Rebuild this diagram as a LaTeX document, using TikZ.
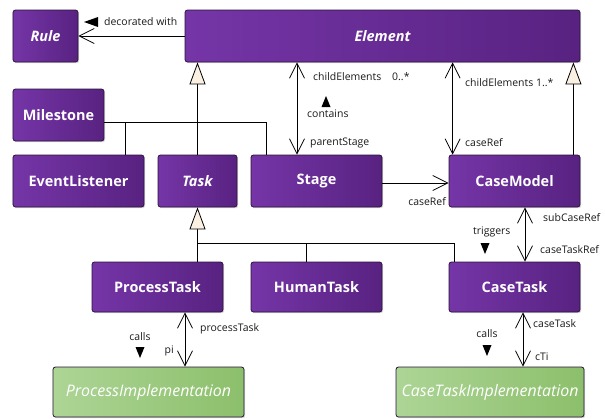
\documentclass[tikz,border=0pt]{standalone}
\usepackage{fontspec}
\setmainfont{Open Sans}
\usetikzlibrary{arrows.meta,shadows}

\definecolor{umlpurpleL}{HTML}{7535A7}
\definecolor{umlpurpleD}{HTML}{582281}
\definecolor{umlgreenL}{HTML}{ADD596}
\definecolor{umlgreenD}{HTML}{8CBF6B}
\definecolor{umledge}{HTML}{2A1438}
\definecolor{gencream}{HTML}{FBF1E2}

\tikzset{
  cls/.style={draw=umledge, line width=0.8bp, rounded corners=2.5bp,
    left color=umlpurpleL, right color=umlpurpleD, text=white,
    font=\fontsize{14.5}{16}\selectfont\bfseries, minimum height=52bp, inner sep=0pt,
    drop shadow={shadow xshift=1.2bp, shadow yshift=-1.2bp, opacity=0.3}},
  abstractcls/.style={cls, font=\fontsize{14.5}{16}\selectfont\bfseries\itshape},
  impl/.style={cls, left color=umlgreenL, right color=umlgreenD, minimum height=50bp,
    font=\fontsize{16}{18}\selectfont\itshape},
  lbl/.style={font=\fontsize{10.5}{12}\selectfont, text=black!90, inner sep=0pt},
  link/.style={draw=black, line width=0.8bp},
  nav/.style={link, -{Straight Barb[length=15bp,width=15bp]}},
  bidir/.style={link, {Straight Barb[length=15bp,width=15bp]}-{Straight Barb[length=15bp,width=15bp]}},
  gen/.style={link, -{Triangle[length=22bp,width=16bp,fill=gencream]}},
  marker/.style={fill=black}
}

\begin{document}
\begin{tikzpicture}[x=1bp, y=-1bp]
  \useasboundingbox (0,0) rectangle (605,418);

  % classes
  \node[abstractcls, minimum width=65bp]  (Rule)          at (45.5,36)  {Rule};
  \node[abstractcls, minimum width=395bp] (Element)       at (382.5,36) {Element};
  \node[cls, minimum width=91bp]          (Milestone)     at (58.5,115) {Milestone};
  \node[cls, minimum width=131bp]         (EventListener) at (78.5,181) {EventListener};
  \node[abstractcls, minimum width=79bp]  (Task)          at (197.5,181) {Task};
  \node[cls, minimum width=131bp]         (Stage)         at (316.5,181) {Stage};
  \node[cls, minimum width=131bp]         (CaseModel)     at (514.5,181) {CaseModel};
  \node[cls, minimum width=131bp, minimum height=50bp] (ProcessTask) at (157.5,287) {ProcessTask};
  \node[cls, minimum width=131bp, minimum height=50bp] (HumanTask)   at (316.5,287) {HumanTask};
  \node[cls, minimum width=131bp, minimum height=50bp] (CaseTask)    at (514.5,287) {CaseTask};
  \node[impl, minimum width=191bp] (ProcessImpl)  at (148.5,392) {ProcessImplementation};
  \node[impl, minimum width=188bp] (CaseTaskImpl) at (490,392)   {CaseTaskImplementation};

  % Element -> Rule
  \draw[nav] (Element.west) -- (Rule.east);
  \node[lbl, anchor=west] (decoLbl) at (104,22) {decorated with};
  \fill[marker] (84,22) -- (98,17) -- (98,27) -- cycle;

  % generalisations to Element
  \draw[gen] (Task.north) -- (Task.north |- Element.south);
  \coordinate (msJoin) at ([yshift=-7bp]Milestone.east);
  \draw[link] (msJoin) -| ([xshift=16bp]Stage.north west);
  \draw[link] ([xshift=-19bp]EventListener.north east) -- ([xshift=-19bp]EventListener.north east |- msJoin);
  \draw[gen] ([xshift=-7bp]CaseModel.north east) -- ([xshift=-7bp]CaseModel.north east |- Element.south);

  % generalisations to Task
  \draw[gen] (ProcessTask.north -| Task.south) -- (Task.south);
  \coordinate (tJoin) at (198,243);
  \draw[link] (tJoin) -| ([xshift=6bp]CaseTask.north west);
  \draw[link] ([xshift=-10.5bp]HumanTask.north) -- ([xshift=-10.5bp]HumanTask.north |- tJoin);

  % Element <-> Stage
  \draw[bidir] ([xshift=-19.5bp]Stage.north) -- ([xshift=-19.5bp]Stage.north |- Element.south);
  \node[lbl, anchor=west] (ceA) at (313,77) {childElements};
  \node[lbl, anchor=west] (ceAm) at (392,77) {0..*};
  \fill[marker] (326,96) -- (330.5,107) -- (321.5,107) -- cycle;
  \node[lbl, anchor=west] (containsLbl) at (307,114) {contains};
  \node[lbl, anchor=west] (psLbl) at (310,143) {parentStage};

  % Element <-> CaseModel
  \draw[bidir] ([xshift=4bp]CaseModel.north west) -- ([xshift=4bp]CaseModel.north west |- Element.south);
  \node[lbl, anchor=west] (ceB) at (465,83) {childElements 1..*};
  \node[lbl, anchor=west] (crA) at (465,143) {caseRef};

  % Stage -> CaseModel
  \draw[nav] ([yshift=-2bp]Stage.east) -- ([yshift=-2bp]Stage.east -| CaseModel.west);
  \node[lbl, anchor=east] (crB) at (446,202) {caseRef};

  % CaseModel <-> CaseTask
  \draw[bidir] ([xshift=10.5bp]CaseModel.south) -- ([xshift=10.5bp]CaseModel.south |- CaseTask.north);
  \node[lbl, anchor=west] (scrLbl) at (543,218) {subCaseRef};
  \node[lbl, anchor=west] (ctrLbl) at (540,250) {caseTaskRef};
  \node[lbl, anchor=west] (trigLbl) at (473,232) {triggers};
  \fill[marker] (485,254) -- (480.5,243) -- (489.5,243) -- cycle;

  % ProcessTask <-> ProcessImplementation
  \draw[bidir] ([xshift=27.5bp]ProcessTask.south) -- ([xshift=27.5bp]ProcessTask.south |- ProcessImpl.north);
  \node[lbl, anchor=west] (ptLbl) at (200,329) {processTask};
  \node[lbl, anchor=east] (piLbl) at (174,351) {pi};
  \node[lbl] (callsA) at (140,337) {calls};
  \fill[marker] (140,358) -- (135.5,347) -- (144.5,347) -- cycle;

  % CaseTask <-> CaseTaskImplementation
  \draw[bidir] ([xshift=8.5bp]CaseTask.south) -- ([xshift=8.5bp]CaseTask.south |- CaseTaskImpl.north);
  \node[lbl, anchor=west] (ctLbl) at (533,324) {caseTask};
  \node[lbl, anchor=west] (ctiLbl) at (535,357) {cTi};
  \node[lbl] (callsB) at (487,334) {calls};
  \fill[marker] (487,356) -- (482.5,345) -- (491.5,345) -- cycle;
\end{tikzpicture}
\end{document}
